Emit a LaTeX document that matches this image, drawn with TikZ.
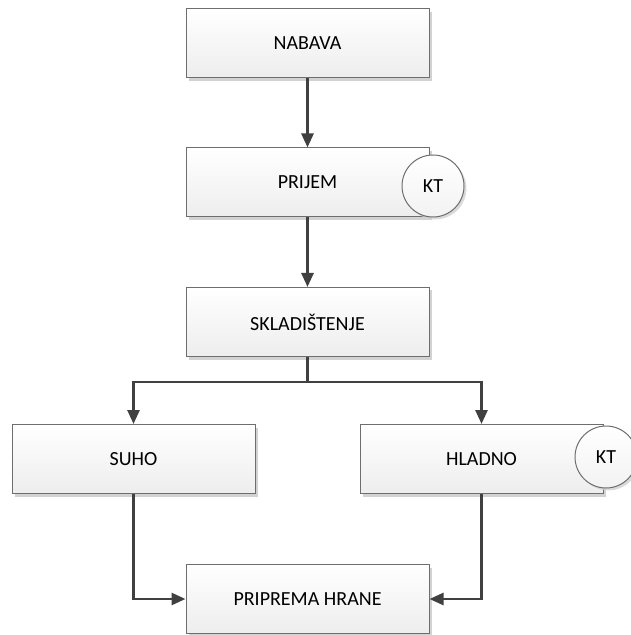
\documentclass[tikz,border=0pt]{standalone}
\usepackage{fontspec}
\setmainfont{Carlito}
\usepackage{tikz}
\usetikzlibrary{arrows.meta,shadows,positioning}

\definecolor{linegray}{HTML}{404040}
\definecolor{boxline}{HTML}{6E6E6E}

\begin{document}
\begin{tikzpicture}[x=0.5pt, y=-0.5pt]
\tikzset{StepBox/.style = {rectangle, draw=boxline, line width=0.5pt, minimum width=121.5pt, minimum height=34.5pt,
    top color=white, bottom color=black!7, font=\fontsize{10}{12}\selectfont,
    drop shadow={shadow xshift=1.5pt, shadow yshift=-1.5pt, fill=black!22, opacity=0.8}}}
\tikzset{KtMark/.style = {circle, draw=boxline, line width=0.5pt, minimum size=31pt, inner sep=0pt,
    top color=white, bottom color=black!5, font=\fontsize{10}{12}\selectfont,
    drop shadow={shadow xshift=1.2pt, shadow yshift=-1.2pt, fill=black!18, opacity=0.8}}}
\tikzset{FlowLine/.style = {draw=linegray, line width=1.3pt, -{Triangle[width=6pt,length=7pt]}}}
  \useasboundingbox (0,0) rectangle (630,635);
  % process steps
  \node[StepBox] (nabava)   at (307.5, 43.5) {NABAVA};
  \node[StepBox] (prijem)   at (307.5,182.5) {PRIJEM};
  \node[StepBox] (skladiste) at (307.5,322)  {SKLADIŠTENJE};
  \node[StepBox] (suho)     at (133.5,459)   {SUHO};
  \node[StepBox] (hladno)   at (481.5,459)   {HLADNO};
  \node[StepBox] (priprema) at (307.5,599)   {PRIPREMA HRANE};
  % control points
  \node[KtMark] (ktprijem) at (433,186) {KT};
  \node[KtMark] (kthladno) at (606,457) {KT};
  % connectors
  \coordinate (split) at (307.5,382);
  \draw[FlowLine] (nabava) -- (prijem);
  \draw[FlowLine] (prijem) -- (skladiste);
  \draw[FlowLine, -] (skladiste) -- (split);
  \draw[FlowLine] (split) -| (suho.north);
  \draw[FlowLine] (split) -| (hladno.north);
  \draw[FlowLine] (suho.south) |- (priprema.west);
  \draw[FlowLine] (hladno.south) |- (priprema.east);
\end{tikzpicture}
\end{document}
